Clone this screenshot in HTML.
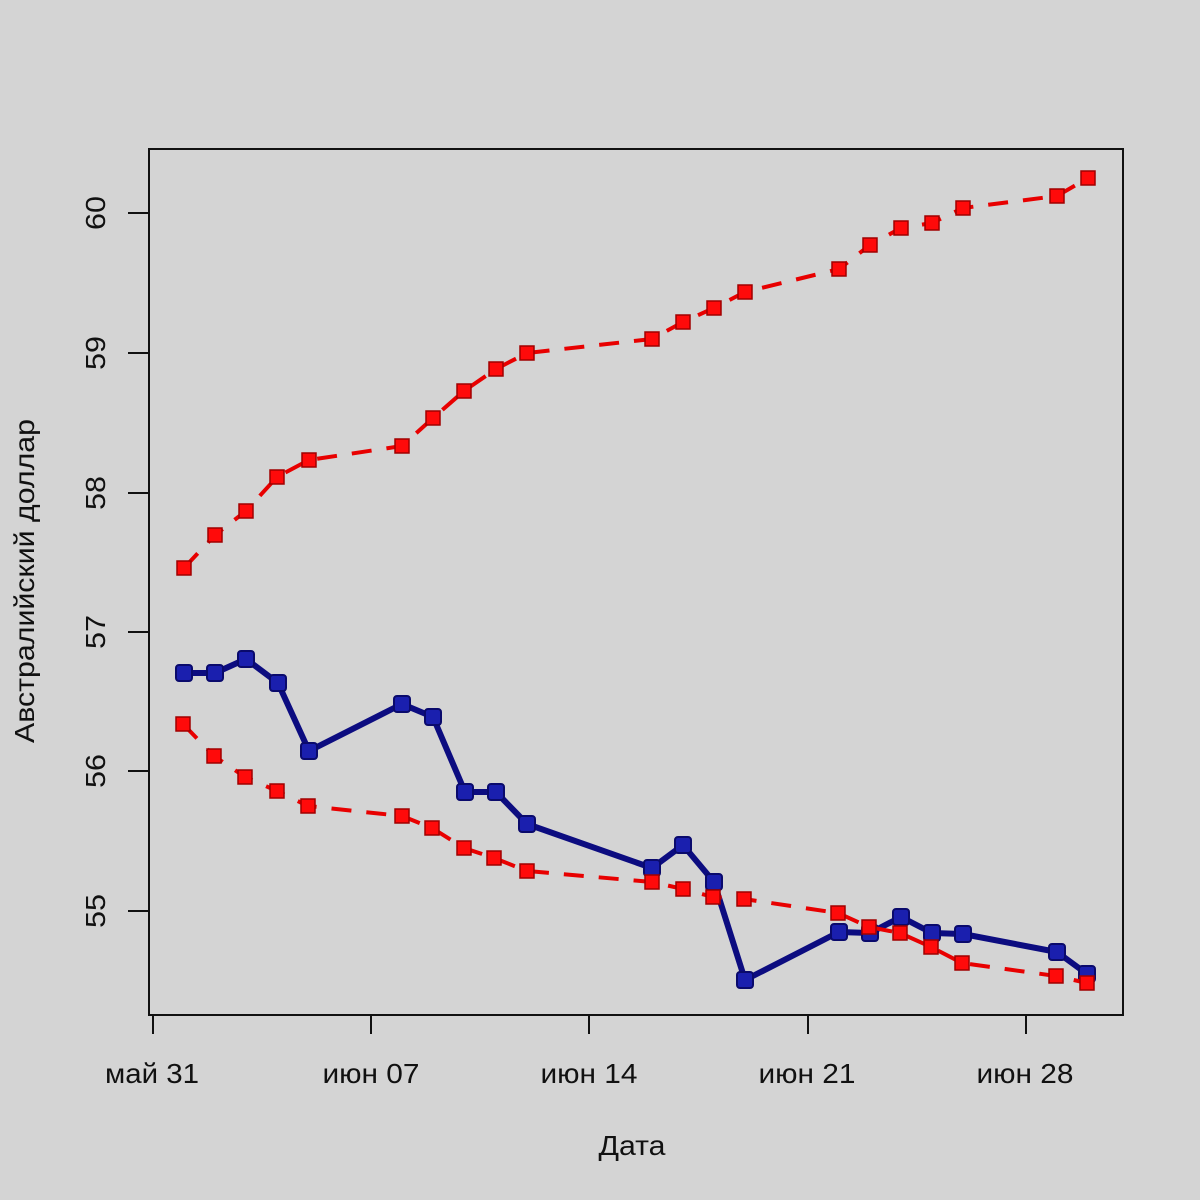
<!DOCTYPE html>
<html>
<head>
<meta charset="utf-8">
<style>
  html,body{margin:0;padding:0;background:#d4d4d4;}
  svg{display:block;}
  text{font-family:"Liberation Sans","DejaVu Sans",sans-serif;fill:#111;}
</style>
</head>
<body>
<svg width="1200" height="1200" viewBox="0 0 1200 1200" xmlns="http://www.w3.org/2000/svg">
  <rect x="0" y="0" width="1200" height="1200" fill="#d4d4d4"/>

  <!-- plot box -->
  <rect x="149" y="149" width="974" height="866" fill="none" stroke="#111" stroke-width="2"/>

  <!-- y ticks -->
  <g stroke="#111" stroke-width="2">
    <line x1="128" y1="213" x2="149" y2="213"/>
    <line x1="128" y1="353" x2="149" y2="353"/>
    <line x1="128" y1="493" x2="149" y2="493"/>
    <line x1="128" y1="632" x2="149" y2="632"/>
    <line x1="128" y1="771" x2="149" y2="771"/>
    <line x1="128" y1="911" x2="149" y2="911"/>
  </g>
  <!-- y tick labels -->
  <g font-size="28" text-anchor="middle">
    <text transform="translate(105,213) rotate(-90)" textLength="34" lengthAdjust="spacingAndGlyphs">60</text>
    <text transform="translate(105,353) rotate(-90)" textLength="34" lengthAdjust="spacingAndGlyphs">59</text>
    <text transform="translate(105,493) rotate(-90)" textLength="34" lengthAdjust="spacingAndGlyphs">58</text>
    <text transform="translate(105,632) rotate(-90)" textLength="34" lengthAdjust="spacingAndGlyphs">57</text>
    <text transform="translate(105,771) rotate(-90)" textLength="34" lengthAdjust="spacingAndGlyphs">56</text>
    <text transform="translate(105,911) rotate(-90)" textLength="34" lengthAdjust="spacingAndGlyphs">55</text>
  </g>
  <text font-size="28" text-anchor="middle" transform="translate(34,581) rotate(-90)" textLength="324" lengthAdjust="spacingAndGlyphs">Австралийский доллар</text>

  <!-- x ticks -->
  <g stroke="#111" stroke-width="2">
    <line x1="153" y1="1015" x2="153" y2="1034"/>
    <line x1="371" y1="1015" x2="371" y2="1034"/>
    <line x1="589" y1="1015" x2="589" y2="1034"/>
    <line x1="808" y1="1015" x2="808" y2="1034"/>
    <line x1="1026" y1="1015" x2="1026" y2="1034"/>
  </g>
  <g font-size="28" text-anchor="middle">
    <text x="152" y="1083" textLength="94" lengthAdjust="spacingAndGlyphs">май 31</text>
    <text x="371" y="1083" textLength="97" lengthAdjust="spacingAndGlyphs">июн 07</text>
    <text x="589" y="1083" textLength="97" lengthAdjust="spacingAndGlyphs">июн 14</text>
    <text x="807" y="1083" textLength="97" lengthAdjust="spacingAndGlyphs">июн 21</text>
    <text x="1025" y="1083" textLength="97" lengthAdjust="spacingAndGlyphs">июн 28</text>
  </g>
  <text x="632" y="1155" font-size="28" text-anchor="middle" textLength="67" lengthAdjust="spacingAndGlyphs">Дата</text>

  <!-- blue series -->
  <polyline fill="none" stroke="#0c0c80" stroke-width="6" stroke-linejoin="round"
    points="184,673 215,673 246,659 278,683 309,751 402,704 433,717 465,792 496,792 527,824 652,868 683,845 714,882 745,980 839,932 870,933 901,917 932,933 963,934 1057,952 1087,974"/>
  <g fill="#1a1fae" stroke="#0a0a6c" stroke-width="2">
    <rect x="176" y="665" width="16" height="16" rx="3"/>
    <rect x="207" y="665" width="16" height="16" rx="3"/>
    <rect x="238" y="651" width="16" height="16" rx="3"/>
    <rect x="270" y="675" width="16" height="16" rx="3"/>
    <rect x="301" y="743" width="16" height="16" rx="3"/>
    <rect x="394" y="696" width="16" height="16" rx="3"/>
    <rect x="425" y="709" width="16" height="16" rx="3"/>
    <rect x="457" y="784" width="16" height="16" rx="3"/>
    <rect x="488" y="784" width="16" height="16" rx="3"/>
    <rect x="519" y="816" width="16" height="16" rx="3"/>
    <rect x="644" y="860" width="16" height="16" rx="3"/>
    <rect x="675" y="837" width="16" height="16" rx="3"/>
    <rect x="706" y="874" width="16" height="16" rx="3"/>
    <rect x="737" y="972" width="16" height="16" rx="3"/>
    <rect x="831" y="924" width="16" height="16" rx="3"/>
    <rect x="862" y="925" width="16" height="16" rx="3"/>
    <rect x="893" y="909" width="16" height="16" rx="3"/>
    <rect x="924" y="925" width="16" height="16" rx="3"/>
    <rect x="955" y="926" width="16" height="16" rx="3"/>
    <rect x="1049" y="944" width="16" height="16" rx="3"/>
    <rect x="1079" y="966" width="16" height="16" rx="3"/>
  </g>

  <!-- upper red series -->
  <polyline fill="none" stroke="#e80000" stroke-width="4" stroke-dasharray="20 15"
    points="184,568 215,535 246,511 277,477 309,460 402,446 433,418 464,391 496,369 527,353 652,339 683,322 714,308 745,292 839,269 870,245 901,228 932,223 963,208 1057,196 1088,178"/>
  <g fill="#ff0a0a" stroke="#a00000" stroke-width="1.5">
    <rect x="177" y="561" width="14" height="14"/>
    <rect x="208" y="528" width="14" height="14"/>
    <rect x="239" y="504" width="14" height="14"/>
    <rect x="270" y="470" width="14" height="14"/>
    <rect x="302" y="453" width="14" height="14"/>
    <rect x="395" y="439" width="14" height="14"/>
    <rect x="426" y="411" width="14" height="14"/>
    <rect x="457" y="384" width="14" height="14"/>
    <rect x="489" y="362" width="14" height="14"/>
    <rect x="520" y="346" width="14" height="14"/>
    <rect x="645" y="332" width="14" height="14"/>
    <rect x="676" y="315" width="14" height="14"/>
    <rect x="707" y="301" width="14" height="14"/>
    <rect x="738" y="285" width="14" height="14"/>
    <rect x="832" y="262" width="14" height="14"/>
    <rect x="863" y="238" width="14" height="14"/>
    <rect x="894" y="221" width="14" height="14"/>
    <rect x="925" y="216" width="14" height="14"/>
    <rect x="956" y="201" width="14" height="14"/>
    <rect x="1050" y="189" width="14" height="14"/>
    <rect x="1081" y="171" width="14" height="14"/>
  </g>

  <!-- lower red series -->
  <polyline fill="none" stroke="#e80000" stroke-width="4" stroke-dasharray="20 15"
    points="183,724 214,756 245,777 277,791 308,806 402,816 432,828 464,848 494,858 527,871 652,882 683,889 713,897 744,899 838,913 869,927 900,933 931,947 962,963 1056,976 1087,983"/>
  <g fill="#ff0a0a" stroke="#a00000" stroke-width="1.5">
    <rect x="176" y="717" width="14" height="14"/>
    <rect x="207" y="749" width="14" height="14"/>
    <rect x="238" y="770" width="14" height="14"/>
    <rect x="270" y="784" width="14" height="14"/>
    <rect x="301" y="799" width="14" height="14"/>
    <rect x="395" y="809" width="14" height="14"/>
    <rect x="425" y="821" width="14" height="14"/>
    <rect x="457" y="841" width="14" height="14"/>
    <rect x="487" y="851" width="14" height="14"/>
    <rect x="520" y="864" width="14" height="14"/>
    <rect x="645" y="875" width="14" height="14"/>
    <rect x="676" y="882" width="14" height="14"/>
    <rect x="706" y="890" width="14" height="14"/>
    <rect x="737" y="892" width="14" height="14"/>
    <rect x="831" y="906" width="14" height="14"/>
    <rect x="862" y="920" width="14" height="14"/>
    <rect x="893" y="926" width="14" height="14"/>
    <rect x="924" y="940" width="14" height="14"/>
    <rect x="955" y="956" width="14" height="14"/>
    <rect x="1049" y="969" width="14" height="14"/>
    <rect x="1080" y="976" width="14" height="14"/>
  </g>
</svg>
</body>
</html>
